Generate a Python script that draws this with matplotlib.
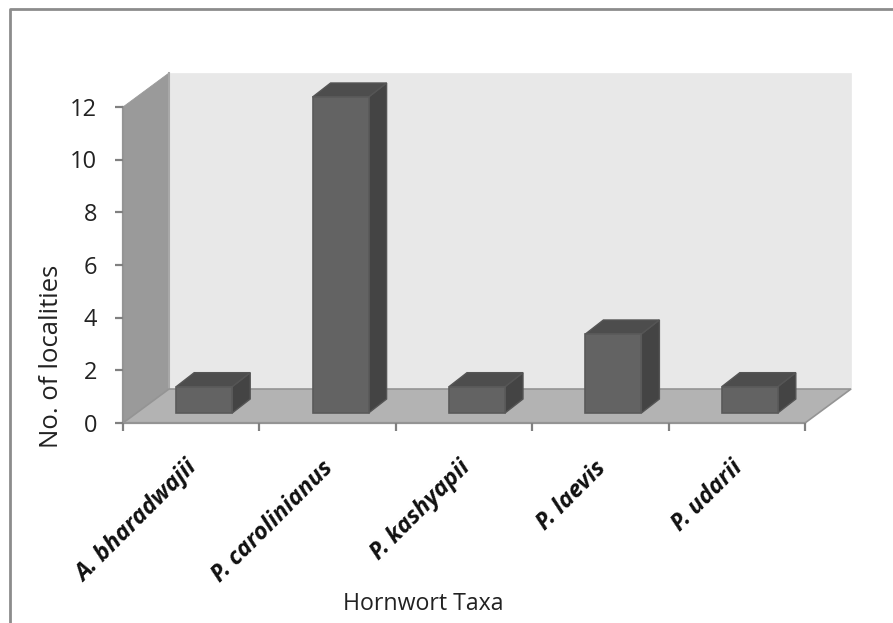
import matplotlib
matplotlib.use("Agg")
import matplotlib.pyplot as plt
from matplotlib.patches import Polygon, Rectangle

taxa = ["A. bharadwajii", "P. carolinianus", "P. kashyapii", "P. laevis", "P. udarii"]
localities = [1, 12, 1, 3, 1]
y_ticks = [0, 2, 4, 6, 8, 10, 12]

W, H = 893, 623
plt.rcParams["font.family"] = ["Open Sans", "DejaVu Sans"]
fig = plt.figure(figsize=(W / 100, H / 100), dpi=100, facecolor="white")

# Axes spans the front plane of the pseudo-3D box
L, R, B, T = 123, 805, 423, 107
ax = fig.add_axes([L / W, 1 - B / H, (R - L) / W, (B - T) / H])
ax.set_xlim(0, 5)
ax.set_ylim(0, 12)
ax.axis("off")

px_x = 5 / (R - L)
px_y = 12 / (B - T)
DEPTH_X, DEPTH_Y = 46 * px_x, 34 * px_y
EDGE = "#949494"


def poly(points, face, edge=EDGE, lw=1.6, z=1):
    ax.add_patch(Polygon(points, closed=True, facecolor=face, edgecolor=edge,
                         linewidth=lw, clip_on=False, zorder=z, joinstyle="miter"))


# Back wall, side wall and floor
poly([(DEPTH_X, DEPTH_Y), (5 + DEPTH_X, DEPTH_Y), (5 + DEPTH_X, 12 + DEPTH_Y), (DEPTH_X, 12 + DEPTH_Y)],
     "#e8e8e8", edge="#e8e8e8", lw=0.5)
ax.plot([DEPTH_X, DEPTH_X], [DEPTH_Y, 12 + DEPTH_Y], color="#a8a8a8", lw=1.5, clip_on=False, zorder=1.2)
poly([(0, 0), (DEPTH_X, DEPTH_Y), (DEPTH_X, 12 + DEPTH_Y), (0, 12)], "#9a9a9a", edge="#9a9a9a", lw=0.6, z=1.1)
poly([(0, 0), (5, 0), (5 + DEPTH_X, DEPTH_Y), (DEPTH_X, DEPTH_Y)], "#b3b3b3", edge="#949494", lw=1.2, z=1.3)

# Axis lines and tick marks
ax.plot([0, 0], [0, 12], color=EDGE, lw=1.6, clip_on=False, zorder=3)
ax.plot([0, 5], [0, 0], color=EDGE, lw=1.6, clip_on=False, zorder=3)
TICK_X, TICK_Y = 8 * px_x, 8 * px_y
for v in y_ticks:
    ax.plot([-TICK_X, 0], [v, v], color="#808080", lw=1.6, clip_on=False, zorder=3, solid_capstyle="butt")
    ax.text(-26 * px_x, v - 2.5 * px_y, str(v), ha="right", va="center", fontsize=17, color="#222222")
for i in range(6):
    ax.plot([i, i], [0, -TICK_Y], color="#808080", lw=1.6, clip_on=False, zorder=3, solid_capstyle="butt")

# Bars: front face, right face and top, each inset from the front plane
BAR_HALF = 28 * px_x
BAR_DX, BAR_DY = 13 * px_x, 10 * px_y
SIDE_X, SIDE_Y = 18 * px_x, 14 * px_y
for i, (name, val) in enumerate(zip(taxa, localities)):
    x0 = i + 0.5 + BAR_DX - BAR_HALF
    x1 = i + 0.5 + BAR_DX + BAR_HALF
    y0, y1 = BAR_DY, BAR_DY + val
    poly([(x1, y0), (x1 + SIDE_X, y0 + SIDE_Y), (x1 + SIDE_X, y1 + SIDE_Y), (x1, y1)], "#444444", edge="#555555", lw=1, z=4)
    poly([(x0, y1), (x1, y1), (x1 + SIDE_X, y1 + SIDE_Y), (x0 + SIDE_X, y1 + SIDE_Y)], "#4d4d4d", edge="#555555", lw=1, z=4)
    ax.add_patch(Rectangle((x0, y0), x1 - x0, val, facecolor="#636363", edgecolor="#5a5a5a",
                           linewidth=1.2, clip_on=False, zorder=5))
    ax.annotate(name, xy=(i + 0.5, 0), xycoords="data", xytext=(-6, -33), textcoords="offset pixels",
                rotation=45, rotation_mode="anchor", ha="right", va="top",
                fontsize=17, fontweight="bold", fontstyle="italic", color="#111111", annotation_clip=False)

fig.text(423 / W, 1 - 604 / H, "Hornwort Taxa", ha="center", va="center", fontsize=16.7, color="#222222")
fig.text(52 / W, 1 - 356 / H, "No. of localities", rotation=90, ha="center", va="center", fontsize=18.5, color="#222222")

# Outer chart border: top and left edges only
bg = fig.add_axes([0, 0, 1, 1], zorder=-1)
bg.set_xlim(0, W)
bg.set_ylim(H, 0)
bg.axis("off")
bg.plot([9.5, 9.5, W], [H, 8.5, 8.5], color="#8c8c8c", lw=2)

fig.savefig("out.png", dpi=100)
